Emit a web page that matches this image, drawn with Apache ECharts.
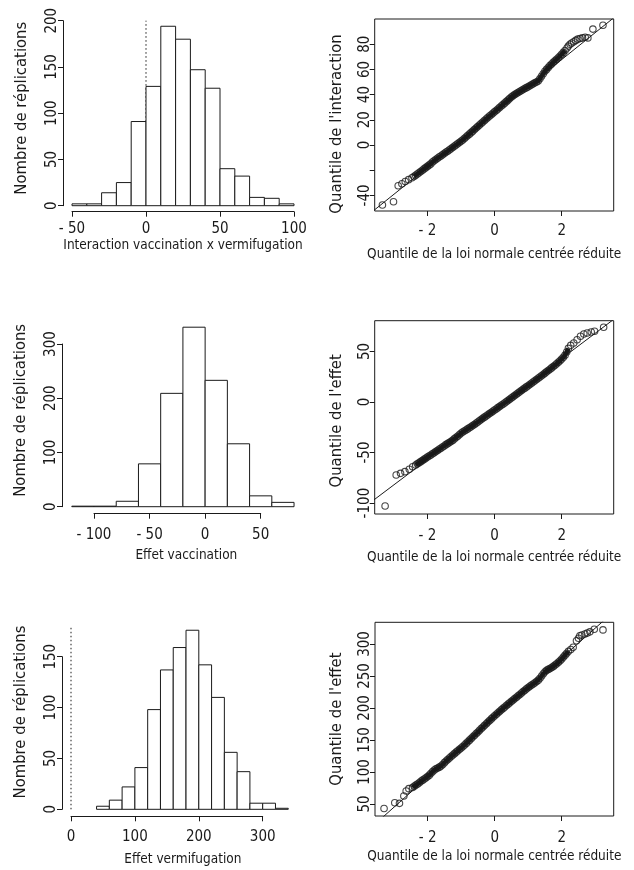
<!DOCTYPE html>
<html>
<head>
<meta charset="utf-8">
<script src="https://cdn.jsdelivr.net/npm/echarts@6/dist/echarts.min.js"></script>
<style>
  html, body { margin: 0; padding: 0; background: #fff; }
  #main { width: 634px; height: 870px; }
</style>
</head>
<body>
<div id="main"></div>
<script>
// histogram 1 : interaction vaccination x vermifugation
const interEdges = [-50, -40, -30, -20, -10, 0, 10, 20, 30, 40, 50, 60, 70, 80, 90, 100];
const interCounts = [2, 2, 14, 25, 91, 129, 194, 180, 147, 127, 40, 32, 9, 8, 2];
const interXTicks = [-50, 0, 50, 100];
const interYTicks = [0, 50, 100, 150, 200];

// histogram 2 : effet vaccination
const vaccEdges = [-120, -100, -80, -60, -40, -20, 0, 20, 40, 60, 80];
const vaccCounts = [1, 1, 10, 79, 209, 331, 233, 116, 20, 8];
const vaccXTicks = [-100, -50, 0, 50];
const vaccYTicks = [0, 100, 200, 300];

// histogram 3 : effet vermifugation
const vermEdges = [40, 60, 80, 100, 120, 140, 160, 180, 200, 220, 240, 260, 280, 300, 320, 340];
const vermCounts = [3, 9, 22, 41, 98, 137, 159, 176, 142, 110, 56, 37, 6, 6, 1];
const vermXTicks = [0, 100, 200, 300];
const vermYTicks = [0, 50, 100, 150];

// reference line x = 0 (dotted)
const interZeroLine = [[0, 0], [0, 200]];
const vermZeroLine = [[0, 0], [0, 180]];

// QQ plot 1 : quantiles de l'interaction
const qqInterPoints = [
  [-3.34, -47.6], [-3.01, -45], [-2.87, -32.3], [-2.76, -30.8], [-2.66, -29], [-2.56, -27.5], [-2.46, -26], [-2.4, -25],
  [-2.35, -24], [-2.3, -23], [-2.25, -22], [-2.2, -21], [-2.15, -20], [-2.1, -19], [-2.05, -18], [-2.0, -17],
  [-1.95, -16], [-1.9, -15], [-1.85, -13.5], [-1.8, -12.5], [-1.75, -11.5], [-1.7, -10.5], [-1.65, -9.5], [-1.6, -8.8],
  [-1.55, -7.8], [-1.5, -6.8], [-1.45, -5.8], [-1.4, -5], [-1.35, -4], [-1.3, -3], [-1.25, -2], [-1.2, -1],
  [-1.15, 0], [-1.1, 1], [-1.05, 2], [-1.0, 3], [-0.95, 4], [-0.9, 5.2], [-0.85, 6.3], [-0.8, 7.5],
  [-0.75, 8.6], [-0.7, 9.8], [-0.65, 11], [-0.6, 12.2], [-0.55, 13.4], [-0.5, 14.6], [-0.45, 15.8], [-0.4, 17],
  [-0.35, 18.2], [-0.3, 19.4], [-0.25, 20.6], [-0.2, 21.8], [-0.15, 23], [-0.1, 24], [-0.05, 25.2], [0, 26.3],
  [0.05, 27.4], [0.1, 28.6], [0.15, 29.7], [0.2, 30.9], [0.25, 32], [0.3, 33.2], [0.35, 34.4], [0.4, 35.6],
  [0.45, 36.8], [0.5, 38], [0.55, 39], [0.6, 40], [0.65, 40.8], [0.7, 41.6], [0.75, 42.4], [0.8, 43.2],
  [0.85, 44], [0.9, 44.8], [0.95, 45.5], [1.0, 46.2], [1.05, 47], [1.1, 47.8], [1.15, 48.6], [1.2, 49.3],
  [1.25, 50], [1.3, 50.8], [1.35, 52.5], [1.4, 54.5], [1.45, 56.5], [1.5, 58.5], [1.55, 60], [1.6, 61.5],
  [1.65, 63], [1.7, 64.3], [1.75, 65.6], [1.8, 66.8], [1.85, 68], [1.9, 69.3], [1.95, 70.6], [2.0, 72],
  [2.05, 73.5], [2.1, 75], [2.16, 77], [2.2, 78.5], [2.25, 80], [2.3, 81], [2.36, 82], [2.42, 83],
  [2.48, 84], [2.55, 84.5], [2.62, 85], [2.7, 85.5], [2.78, 85], [2.93, 92], [3.23, 95]
];
const qqInterLine = [[-3.8, -56.3], [3.8, 106.3]];
const qqInterBand = [-2.4, 2.1];
const qqInterYTicks = [-40, -20, 0, 20, 40, 60, 80];
const qqInterYLabels = [-40, 0, 20, 40, 60, 80];

// QQ plot 2 : quantiles de l'effet vaccination
const qqVaccPoints = [
  [-3.26, -102.9], [-2.93, -72.2], [-2.8, -70.6], [-2.67, -68.9], [-2.54, -66.6], [-2.44, -64],
  [-2.35, -62.3], [-2.3, -61.2], [-2.25, -60.2], [-2.2, -59], [-2.15, -58], [-2.1, -56.8], [-2.05, -55.6], [-2.0, -54.5],
  [-1.95, -53.4], [-1.9, -52.5], [-1.85, -51.2], [-1.8, -50.2], [-1.75, -49.1], [-1.7, -48], [-1.65, -46.8], [-1.6, -45.7],
  [-1.55, -44.5], [-1.5, -43.5], [-1.45, -42.2], [-1.4, -41.2], [-1.35, -40.2], [-1.3, -39.2], [-1.25, -38], [-1.2, -36.5],
  [-1.15, -35.2], [-1.1, -33.9], [-1.05, -32.4], [-1.0, -31], [-0.95, -29.7], [-0.9, -28.7], [-0.85, -27.7], [-0.8, -26.6],
  [-0.75, -25.5], [-0.7, -24.5], [-0.65, -23.3], [-0.6, -22.2], [-0.55, -21], [-0.5, -19.8], [-0.45, -18.6], [-0.4, -17.3],
  [-0.35, -16.2], [-0.3, -15], [-0.25, -13.8], [-0.2, -12.7], [-0.15, -11.5], [-0.1, -10.4], [-0.05, -9.2], [0, -8],
  [0.05, -6.9], [0.1, -5.6], [0.15, -4.4], [0.2, -3.2], [0.25, -2.2], [0.3, -1], [0.35, 0.2], [0.4, 1.4],
  [0.45, 2.6], [0.5, 3.9], [0.55, 5.1], [0.6, 6.3], [0.65, 7.6], [0.7, 8.8], [0.75, 10], [0.8, 11.3],
  [0.85, 12.5], [0.9, 13.7], [0.95, 14.9], [1.0, 16.1], [1.05, 17.3], [1.1, 18.5], [1.15, 19.7], [1.2, 21],
  [1.25, 22.2], [1.3, 23.5], [1.35, 24.7], [1.4, 26], [1.45, 27.2], [1.5, 28.5], [1.55, 29.8], [1.6, 31.1],
  [1.65, 32.4], [1.7, 33.7], [1.75, 35], [1.8, 36.4], [1.85, 37.8], [1.9, 39.3], [1.95, 40.8], [2.0, 42.4],
  [2.05, 44.2], [2.1, 46.3], [2.15, 49.5], [2.2, 53], [2.27, 56], [2.36, 58.4], [2.46, 61.6], [2.56, 65],
  [2.66, 67.3], [2.76, 68.3], [2.88, 69.2], [2.98, 69.9], [3.25, 73.9]
];
const qqVaccLine = [[-3.8, -102], [3.8, 88]];
const qqVaccBand = [-2.4, 2.2];
const qqVaccYTicks = [-100, -50, 0, 50];

// QQ plot 3 : quantiles de l'effet vermifugation
const qqVermPoints = [
  [-3.3, 43], [-2.98, 52], [-2.84, 51], [-2.71, 62.5], [-2.64, 70.3], [-2.56, 74],
  [-2.45, 75.8], [-2.4, 77.7], [-2.35, 79.5], [-2.3, 81.3], [-2.25, 83.2], [-2.2, 85.5], [-2.15, 87.3], [-2.1, 89.1],
  [-2.05, 91], [-2.0, 92.8], [-1.95, 95.1], [-1.9, 98], [-1.85, 100.8], [-1.8, 103.1], [-1.75, 105], [-1.7, 106.3],
  [-1.65, 107.6], [-1.6, 109.4], [-1.55, 111.8], [-1.5, 114.6], [-1.45, 117.2], [-1.4, 119.6], [-1.35, 121.9], [-1.3, 124.2],
  [-1.25, 126.5], [-1.2, 128.7], [-1.15, 131], [-1.1, 133.2], [-1.05, 135.4], [-1.0, 137.6], [-0.95, 139.9], [-0.9, 142.3],
  [-0.85, 144.7], [-0.8, 147.2], [-0.75, 149.8], [-0.7, 152.3], [-0.65, 154.9], [-0.6, 157.5], [-0.55, 160.1], [-0.5, 162.6],
  [-0.45, 165.2], [-0.4, 167.8], [-0.35, 170.3], [-0.3, 172.9], [-0.25, 175.4], [-0.2, 178], [-0.15, 180.5], [-0.1, 183],
  [-0.05, 185.5], [0, 188], [0.05, 190.3], [0.1, 192.6], [0.15, 194.9], [0.2, 197.1], [0.25, 199.4], [0.3, 201.6],
  [0.35, 203.8], [0.4, 206], [0.45, 208.2], [0.5, 210.4], [0.55, 212.5], [0.6, 214.7], [0.65, 216.8], [0.7, 219],
  [0.75, 221.2], [0.8, 223.4], [0.85, 225.6], [0.9, 227.8], [0.95, 229.9], [1.0, 232], [1.05, 233.9], [1.1, 235.8],
  [1.15, 237.6], [1.2, 239.5], [1.25, 241.5], [1.3, 243.5], [1.35, 246.5], [1.4, 250], [1.45, 253.5], [1.5, 256.5],
  [1.55, 258.8], [1.6, 260.3], [1.65, 261.8], [1.7, 263.3], [1.75, 265], [1.8, 267], [1.85, 269.2], [1.9, 271.5],
  [1.95, 273.8], [2.0, 276.5], [2.05, 279.5], [2.1, 282.6], [2.15, 285.5], [2.2, 288.5], [2.27, 291.5], [2.34, 294.8],
  [2.44, 305], [2.5, 309], [2.54, 313], [2.6, 314], [2.69, 315.6], [2.76, 317], [2.84, 319], [2.97, 323], [3.23, 322]
];
const qqVermLine = [[-3.8, 7.9], [3.8, 362.1]];
const qqVermBand = [-2.45, 2.2];
const qqVermYTicks = [50, 100, 150, 200, 250, 300];

const qqXTicks = [-2, 0, 2];

const FONT = "'Liberation Sans Narrow', 'DejaVu Sans Condensed', 'Liberation Sans', sans-serif";
const INK = '#1a1a1a';
// the scan is stretched vertically: vertical text reads longer than horizontal text
const X_NAME_SIZE = 13.5;
const Y_NAME_SIZE = 16.5;
const X_TICK_SIZE = 15;
const Y_TICK_SIZE = 15;

function toBins(edges, counts) {
  return counts.map((c, i) => [edges[i], edges[i + 1], c]);
}

function minusLabel(v) {
  return v < 0 ? '- ' + Math.abs(v) : String(v);
}

function renderBar(params, api) {
  const top = api.coord([api.value(0), api.value(2)]);
  const bottom = api.coord([api.value(1), 0]);
  return {
    type: 'rect',
    shape: { x: top[0], y: top[1], width: bottom[0] - top[0], height: bottom[1] - top[1] },
    style: { fill: '#fff', stroke: INK, lineWidth: 1 }
  };
}

const chart = echarts.init(document.getElementById('main'));

const axisCommon = {
  type: 'value',
  splitLine: { show: false },
  axisLine: { show: true, onZero: false, lineStyle: { color: INK, width: 1 } },
  axisTick: { show: true, length: 5, lineStyle: { color: INK } },
  nameLocation: 'middle'
};
const xNameStyle = { color: INK, fontSize: X_NAME_SIZE, fontFamily: FONT };
const yNameStyle = { color: INK, fontSize: Y_NAME_SIZE, fontFamily: FONT };
const xLabel = { color: INK, fontSize: X_TICK_SIZE, fontFamily: FONT };
const yLabel = { color: INK, fontSize: Y_TICK_SIZE, fontFamily: FONT };

function histX(grid, min, max, step, offset, margin, name, gap, shift) {
  return Object.assign({}, axisCommon, {
    gridIndex: grid, min: min, max: max, interval: step, offset: offset,
    name: name, nameGap: gap,
    nameTextStyle: Object.assign({}, xNameStyle, { padding: [0, 0, 0, shift] }),
    axisLabel: Object.assign({}, xLabel, { margin: margin, formatter: minusLabel })
  });
}
function histY(grid, min, max, step, offset, shift) {
  return Object.assign({}, axisCommon, {
    gridIndex: grid, min: min, max: max, interval: step, offset: offset,
    name: 'Nombre de réplications', nameGap: 32.5, nameRotate: 90,
    nameTextStyle: Object.assign({}, yNameStyle, { padding: [0, 0, 0, shift] }),
    axisLabel: Object.assign({}, yLabel, { margin: 3.5, rotate: 90 })
  });
}
function qqX(grid, margin, gap) {
  return Object.assign({}, axisCommon, {
    gridIndex: grid, min: -3.57, max: 3.55,
    axisLine: { show: false, onZero: false },
    axisTick: { show: true, length: 5, lineStyle: { color: INK }, customValues: qqXTicks },
    axisLabel: Object.assign({}, xLabel, { margin: margin, customValues: qqXTicks, formatter: minusLabel }),
    name: 'Quantile de la loi normale centrée réduite', nameGap: gap,
    nameTextStyle: xNameStyle
  });
}
function qqY(grid, min, max, ticks, labels, name, shift) {
  return Object.assign({}, axisCommon, {
    gridIndex: grid, min: min, max: max,
    axisLine: { show: false, onZero: false },
    axisTick: { show: true, length: 5, lineStyle: { color: INK }, customValues: ticks },
    axisLabel: Object.assign({}, yLabel, { margin: 2.5, rotate: 90, customValues: labels }),
    name: name, nameGap: 29.5, nameRotate: 90,
    nameTextStyle: Object.assign({}, yNameStyle, { padding: [0, shift, 0, 0] })
  });
}

function histSeries(idx, bins) {
  return {
    type: 'custom', xAxisIndex: idx, yAxisIndex: idx, clip: false, silent: true,
    renderItem: renderBar, data: bins, z: 3
  };
}
function zeroSeries(idx, pts) {
  return {
    type: 'line', xAxisIndex: idx, yAxisIndex: idx, clip: false, symbol: 'none', silent: true,
    data: pts, z: 2, lineStyle: { color: INK, width: 1, type: [1.5, 2.5] }
  };
}
function qqSeries(idx, pts, line, band) {
  // dense middle part: so many points overlap in the original that it prints as a solid stroke
  const dense = pts.filter(p => p[0] >= band[0] && p[0] <= band[1]);
  return [
    {
      type: 'line', xAxisIndex: idx, yAxisIndex: idx, data: dense, symbol: 'none', silent: true,
      lineStyle: { color: INK, width: 4.5 }, z: 2
    },
    {
      type: 'scatter', xAxisIndex: idx, yAxisIndex: idx, data: pts, symbol: 'circle', symbolSize: 6.5,
      silent: true, itemStyle: { color: 'rgba(0,0,0,0)', borderColor: INK, borderWidth: 1.1 }, z: 3
    },
    {
      type: 'line', xAxisIndex: idx, yAxisIndex: idx, data: line, symbol: 'none', clip: true, silent: true,
      lineStyle: { color: INK, width: 1 }, z: 4
    }
  ];
}

const qqGrid = { show: true, borderColor: INK, borderWidth: 1, backgroundColor: 'transparent' };
const gridBase = { containLabel: false, outerBoundsMode: 'none' };

const option = {
  backgroundColor: '#fff',
  animation: false,
  textStyle: { fontFamily: FONT },
  grid: [
    Object.assign({ left: 72, top: 20.7, width: 222, height: 185 }, gridBase),
    Object.assign({ left: 374.7, top: 19, width: 239, height: 192 }, gridBase, qqGrid),
    Object.assign({ left: 94, top: 344, width: 166.7, height: 162.7 }, gridBase),
    Object.assign({ left: 374.7, top: 320.7, width: 239, height: 193.3 }, gridBase, qqGrid),
    Object.assign({ left: 71, top: 656.7, width: 191.7, height: 152.6 }, gridBase),
    Object.assign({ left: 375, top: 622.3, width: 238.7, height: 193.7 }, gridBase, qqGrid)
  ],
  xAxis: [
    histX(0, interXTicks[0], interXTicks[interXTicks.length - 1], 50, 6, 10, 'Interaction vaccination x vermifugation', 26.5, 0),
    qqX(1, 13, 36.5),
    histX(2, vaccXTicks[0], vaccXTicks[vaccXTicks.length - 1], 50, 7, 14, 'Effet vaccination', 34.5, 18),
    qqX(3, 15, 36.5),
    histX(4, vermXTicks[0], vermXTicks[vermXTicks.length - 1], 100, 7, 13, 'Effet vermifugation', 36.5, 32),
    qqX(5, 15, 33.5)
  ],
  yAxis: [
    histY(0, interYTicks[0], interYTicks[interYTicks.length - 1], 50, 9, 10),
    qqY(1, -52.4, 100, qqInterYTicks, qqInterYLabels, "Quantile de l'interaction", 18),
    histY(2, vaccYTicks[0], vaccYTicks[vaccYTicks.length - 1], 100, 32, 30),
    qqY(3, -110.8, 80.4, qqVaccYTicks, qqVaccYTicks, "Quantile de l'effet", 7),
    histY(4, vermYTicks[0], vermYTicks[vermYTicks.length - 1], 50, 9, 42),
    qqY(5, 31.25, 333.9, qqVermYTicks, qqVermYTicks, "Quantile de l'effet", 0)
  ],
  series: [
    zeroSeries(0, interZeroLine),
    histSeries(0, toBins(interEdges, interCounts)),
    ...qqSeries(1, qqInterPoints, qqInterLine, qqInterBand),
    histSeries(2, toBins(vaccEdges, vaccCounts)),
    ...qqSeries(3, qqVaccPoints, qqVaccLine, qqVaccBand),
    zeroSeries(4, vermZeroLine),
    histSeries(4, toBins(vermEdges, vermCounts)),
    ...qqSeries(5, qqVermPoints, qqVermLine, qqVermBand)
  ]
};

chart.setOption(option);
</script>
</body>
</html>
